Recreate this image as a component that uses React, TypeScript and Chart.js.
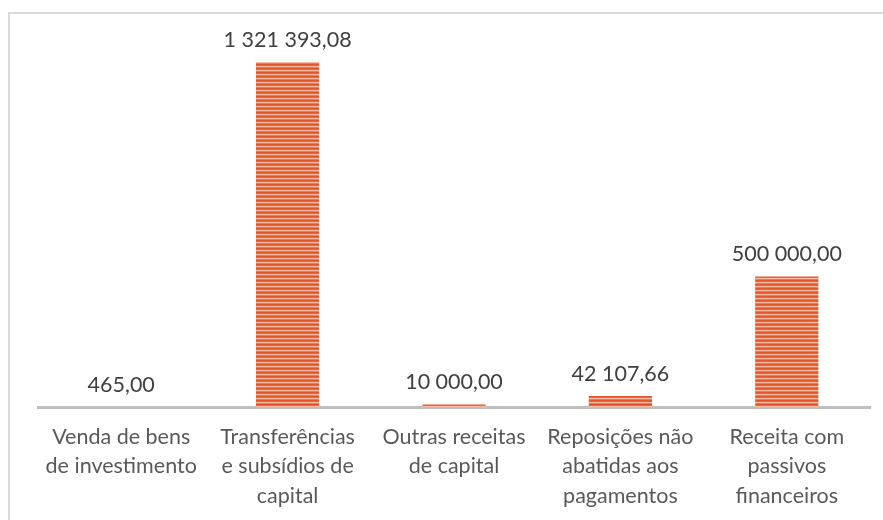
import React, { useEffect, useRef } from "react";
import { Chart, registerables } from "chart.js";

Chart.register(...registerables);

const categories: string[][] = [
  ["Venda de bens", "de investimento"],
  ["Transferências", "e subsídios de", "capital"],
  ["Outras receitas", "de capital"],
  ["Reposições não", "abatidas aos", "pagamentos"],
  ["Receita com", "passivos", "financeiros"],
];
const values: number[] = [465.0, 1321393.08, 10000.0, 42107.66, 500000.0];
const valueLabels: string[] = ["465,00", "1 321 393,08", "10 000,00", "42 107,66", "500 000,00"];

function makePattern(): CanvasPattern | string {
  const c = document.createElement("canvas");
  c.width = 8;
  c.height = 4;
  const g = c.getContext("2d");
  if (!g) return "#E5582C";
  const rows = ["#E4552A", "#E8643A", "#F7BCA5", "#EC7A55"];
  rows.forEach((col, i) => {
    g.fillStyle = col;
    g.fillRect(0, i, 8, 1);
  });
  const p = g.createPattern(c, "repeat");
  return p || "#E5582C";
}

const framePlugin = {
  id: "frame",
  beforeDraw(chart: any) {
    const ctx = chart.ctx;
    ctx.save();
    ctx.fillStyle = "#ffffff";
    ctx.fillRect(0, 0, chart.width, chart.height);
    ctx.strokeStyle = "#d9d9d9";
    ctx.lineWidth = 2;
    ctx.strokeRect(9, 13, chart.width + 20, chart.height + 20);
    ctx.restore();
  },
};

const valueLabelPlugin = {
  id: "valueLabels",
  afterDatasetsDraw(chart: any) {
    const ctx = chart.ctx;
    const meta = chart.getDatasetMeta(0);
    ctx.save();
    ctx.font = "21.5px Lato";
    ctx.fillStyle = "#404040";
    ctx.textAlign = "center";
    ctx.textBaseline = "alphabetic";
    meta.data.forEach((bar: any, i: number) => {
      ctx.fillText(valueLabels[i], bar.x, bar.y - 15);
    });
    ctx.restore();
  },
};

export default function App() {
  const ref = useRef<HTMLCanvasElement | null>(null);
  useEffect(() => {
    if (!ref.current) return;
    const chart = new Chart(ref.current, {
      type: "bar",
      data: {
        labels: categories,
        datasets: [
          {
            data: values,
            backgroundColor: makePattern() as any,
            borderWidth: 0,
            categoryPercentage: 1,
            barPercentage: 0.38,
          },
        ],
      },
      options: {
        animation: false,
        responsive: true,
        maintainAspectRatio: false,
        layout: { padding: { left: 38, right: 13, top: 62, bottom: 10 } },
        plugins: { legend: { display: false }, tooltip: { enabled: false } },
        scales: {
          x: {
            grid: { display: false, drawTicks: false },
            border: { display: true, color: "#bfbfbf", width: 3 },
            ticks: {
              color: "#595959",
              font: { family: "Lato", size: 21.5, lineHeight: 1.35 },
              padding: 16,
              maxRotation: 0,
              autoSkip: false,
            },
            afterFit: (scale: any) => {
              scale.height = 103;
            },
          },
          y: {
            display: false,
            min: 0,
            max: 1321393.08,
          },
        },
      },
      plugins: [framePlugin, valueLabelPlugin],
    });
    return () => chart.destroy();
  }, []);
  return (
    <div style={{ position: "absolute", left: 0, top: 0, width: 883, height: 520 }}>
      <canvas ref={ref} />
    </div>
  );
}
